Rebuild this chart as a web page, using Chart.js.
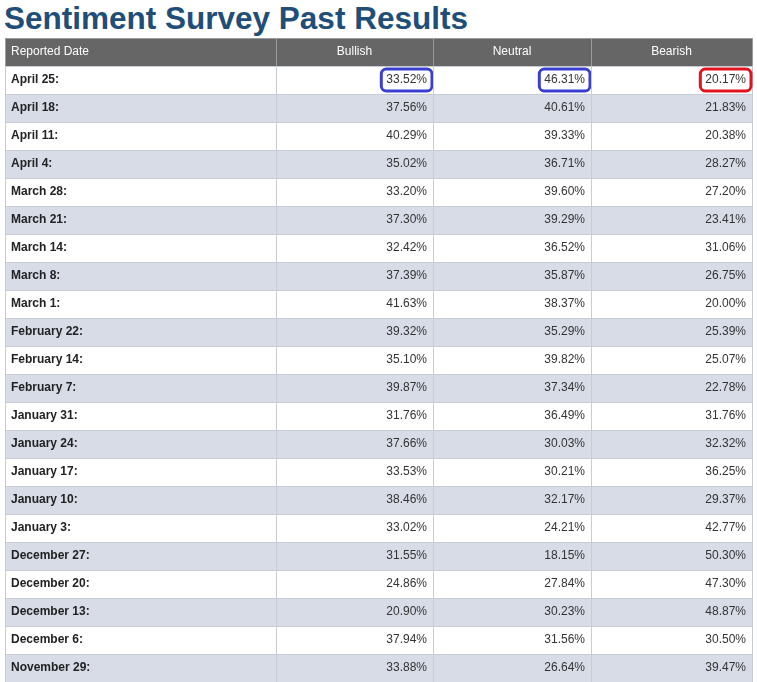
<!DOCTYPE html>
<html>
<head>
<meta charset="utf-8">
<script src="https://cdn.jsdelivr.net/npm/chart.js@4/dist/chart.umd.min.js"></script>
<style>
  body { margin: 0; background: #fff; font-family: "Liberation Sans", Arial, sans-serif; }
  #title { height: 38px; line-height: 36px; padding-left: 4px; font-size: 31.5px; font-weight: bold; color: #1f4e79; white-space: nowrap; }
  #wrap { width: 757px; height: 644px; }
</style>
</head>
<body>
<div id="title">Sentiment Survey Past Results</div>
<div id="wrap"><canvas id="tbl"></canvas></div>
<script>
// Table data
const headers = ['Reported Date', 'Bullish', 'Neutral', 'Bearish'];
const dates = ['April 25:', 'April 18:', 'April 11:', 'April 4:', 'March 28:', 'March 21:', 'March 14:', 'March 8:',
  'March 1:', 'February 22:', 'February 14:', 'February 7:', 'January 31:', 'January 24:', 'January 17:',
  'January 10:', 'January 3:', 'December 27:', 'December 20:', 'December 13:', 'December 6:', 'November 29:'];
const bullish = [33.52, 37.56, 40.29, 35.02, 33.20, 37.30, 32.42, 37.39, 41.63, 39.32, 35.10, 39.87, 31.76, 37.66, 33.53, 38.46, 33.02, 31.55, 24.86, 20.90, 37.94, 33.88];
const neutral = [46.31, 40.61, 39.33, 36.71, 39.60, 39.29, 36.52, 35.87, 38.37, 35.29, 39.82, 37.34, 36.49, 30.03, 30.21, 32.17, 24.21, 18.15, 27.84, 30.23, 31.56, 26.64];
const bearish = [20.17, 21.83, 20.38, 28.27, 27.20, 23.41, 31.06, 26.75, 20.00, 25.39, 25.07, 22.78, 31.76, 32.32, 36.25, 29.37, 42.77, 50.30, 47.30, 48.87, 30.50, 39.47];
// highlighted cells in the first row: [column, colour]
const highlights = [[1, '#3a3fd0'], [2, '#3a3fd0'], [3, '#e0141e']];

const colEdges = [0, 271, 428, 586, 747];
const rowLabels = ['header'].concat(dates);

const tablePlugin = {
  id: 'tablePlugin',
  afterDraw(chart) {
    const ctx = chart.ctx;
    const xs = chart.scales.x, ys = chart.scales.y;
    const rowH = Math.abs(ys.getPixelForValue(1) - ys.getPixelForValue(0));
    ctx.save();
    rowLabels.forEach((lab, r) => {
      const cy = ys.getPixelForValue(r);
      const top = cy - rowH / 2;
      for (let c = 0; c < 4; c++) {
        const x0 = xs.getPixelForValue(colEdges[c]);
        const x1 = xs.getPixelForValue(colEdges[c + 1]);
        ctx.fillStyle = r === 0 ? '#666666' : (r % 2 === 1 ? '#ffffff' : '#d7dce7');
        ctx.fillRect(x0, top, x1 - x0, rowH);
        ctx.strokeStyle = r === 0 ? '#9a9a9a' : '#c8ccd4';
        ctx.lineWidth = 1;
        ctx.strokeRect(Math.round(x0) + 0.5, Math.round(top) + 0.5, x1 - x0, rowH);
        ctx.textBaseline = 'middle';
        if (r === 0) {
          ctx.fillStyle = '#ffffff';
          ctx.font = '12px "Liberation Sans", Arial';
          ctx.textAlign = c === 0 ? 'left' : 'center';
          ctx.fillText(headers[c], c === 0 ? x0 + 6 : (x0 + x1) / 2, cy);
        } else if (c === 0) {
          ctx.fillStyle = '#222';
          ctx.font = 'bold 12px "Liberation Sans", Arial';
          ctx.textAlign = 'left';
          ctx.fillText(lab, x0 + 6, cy);
        } else {
          const v = [bullish, neutral, bearish][c - 1][r - 1];
          const txt = v.toFixed(2) + '%';
          ctx.fillStyle = '#333';
          ctx.font = '12px "Liberation Sans", Arial';
          ctx.textAlign = 'right';
          ctx.fillText(txt, x1 - 6, cy);
          const h = highlights.find(hh => hh[0] === c);
          if (r === 1 && h) {
            const w = ctx.measureText(txt).width;
            ctx.strokeStyle = h[1];
            ctx.lineWidth = 3;
            ctx.beginPath();
            ctx.roundRect(x1 - 6 - w - 5, cy - 11, w + 10, 22, 5);
            ctx.stroke();
          }
        }
      }
    });
    ctx.restore();
  }
};

new Chart(document.getElementById('tbl'), {
  type: 'bar',
  data: { labels: rowLabels, datasets: [] },
  options: {
    responsive: true,
    maintainAspectRatio: false,
    animation: false,
    indexAxis: 'y',
    layout: { padding: { left: 5, right: 5, top: 0, bottom: 0 } },
    plugins: { legend: { display: false }, tooltip: { enabled: false } },
    scales: {
      x: { type: 'linear', min: 0, max: 747, display: false },
      y: { type: 'category', labels: rowLabels, offset: true, display: false }
    }
  },
  plugins: [tablePlugin]
});
</script>
</body>
</html>
